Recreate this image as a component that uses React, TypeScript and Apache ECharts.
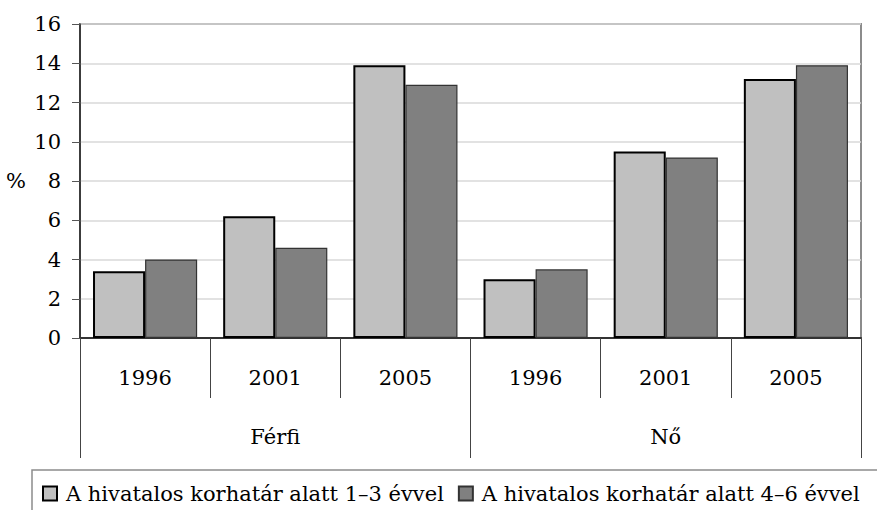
import React, { useEffect, useRef } from "react";
import * as echarts from "echarts";

const categories = ["1996", "2001", "2005", "1996", "2001", "2005"];
const groups = ["Férfi", "Nő"];
const seriesNames = [
  "A hivatalos korhatár alatt 1–3 évvel",
  "A hivatalos korhatár alatt 4–6 évvel",
];
const values13 = [3.4, 6.2, 13.9, 3.0, 9.5, 13.2];
const values46 = [4.0, 4.6, 12.9, 3.5, 9.2, 13.9];
const yAxisName = "%";

const FONT = "DejaVu Serif";

export default function App() {
  const ref = useRef<HTMLDivElement>(null);

  useEffect(() => {
    document.body.style.margin = "0";
    if (!ref.current) return;
    const chart = echarts.init(ref.current, null, { renderer: "svg" });
    const textBase = { fontFamily: FONT, fontSize: 21, color: "#000" };
    chart.setOption({
      animation: false,
      backgroundColor: "#fff",
      grid: {
        left: 80,
        right: 16,
        top: 24,
        bottom: 172,
        show: true,
        borderColor: "#8c8c8c",
        borderWidth: 2,
        backgroundColor: "transparent",
      },
      legend: {
        left: 42,
        top: 483,
        padding: 0,
        itemWidth: 14,
        itemHeight: 14,
        itemGap: 14,
        icon: "rect",
        textStyle: { ...textBase, padding: [0, 0, 0, 4] },
        data: seriesNames,
      },
      graphic: [
        {
          type: "rect",
          z: -1,
          shape: { x: 32, y: 470, width: 900, height: 80 },
          style: { fill: "none", stroke: "#8c8c8c", lineWidth: 1.5 },
        },
      ],
      xAxis: [
        {
          type: "category",
          data: categories,
          position: "bottom",
          axisLine: { show: true, lineStyle: { color: "#333", width: 2 } },
          axisTick: {
            show: true,
            interval: 0,
            length: 60,
            lineStyle: { color: "#444", width: 1 },
          },
          axisLabel: { ...textBase, margin: 29, lineHeight: 22, interval: 0 },
          splitLine: { show: false },
        },
        {
          type: "category",
          data: groups,
          position: "bottom",
          axisLine: { show: false },
          axisTick: {
            show: true,
            interval: 0,
            length: 120,
            lineStyle: { color: "#444", width: 1 },
          },
          axisLabel: { ...textBase, margin: 88, lineHeight: 22, interval: 0 },
          splitLine: { show: false },
        },
      ],
      yAxis: {
        type: "value",
        min: 0,
        max: 16,
        interval: 2,
        name: yAxisName,
        nameLocation: "middle",
        nameRotate: 0,
        nameGap: 54,
        nameTextStyle: { ...textBase, align: "right", padding: [0, 0, 8, 0] },
        axisLine: { show: true, lineStyle: { color: "#222", width: 1.5 } },
        axisTick: {
          show: true,
          length: 8,
          lineStyle: { color: "#555", width: 1 },
        },
        axisLabel: { ...textBase, margin: 19 },
        splitLine: { show: true, lineStyle: { color: "#d9d9d9", width: 1.5 } },
      },
      series: [
        {
          name: seriesNames[0],
          type: "bar",
          xAxisIndex: 0,
          data: values13,
          barGap: "0%",
          barCategoryGap: "20%",
          itemStyle: { color: "#c0c0c0", borderColor: "#000", borderWidth: 2 },
        },
        {
          name: seriesNames[1],
          type: "bar",
          xAxisIndex: 0,
          data: values46,
          barGap: "0%",
          barCategoryGap: "20%",
          itemStyle: { color: "#808080", borderColor: "#333", borderWidth: 1.2 },
        },
      ],
    });
    return () => chart.dispose();
  }, []);

  return <div ref={ref} style={{ width: 877, height: 510 }} />;
}
